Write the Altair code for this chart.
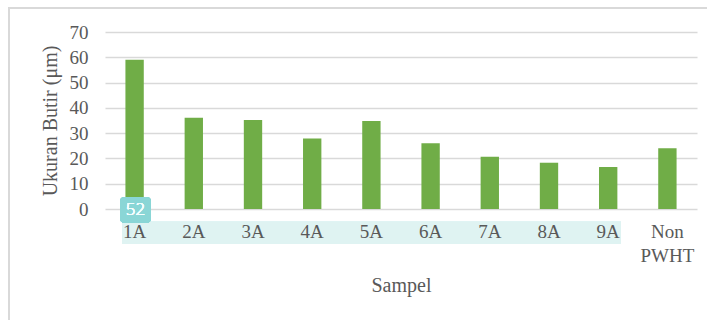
import altair as alt
import pandas as pd

# Grain size per sample
samples = ["1A", "2A", "3A", "4A", "5A", "6A", "7A", "8A", "9A", "Non PWHT"]
grain_size = [59, 36.1, 35.2, 27.9, 34.8, 26, 20.7, 18.3, 16.6, 24]

df = pd.DataFrame({"Sampel": samples, "Ukuran": grain_size})

FONT = "Liberation Serif"
GRAY = "#595959"

x_enc = alt.X(
    "Sampel:N",
    sort=samples,
    title="Sampel",
    scale=alt.Scale(paddingInner=0.69, paddingOuter=0.345),
    axis=alt.Axis(
        labelAngle=0,
        labelExpr="split(datum.label, ' ')",
        labelLineHeight=24,
        labelPadding=13,
        labelFontSize=19,
        labelColor=GRAY,
        labelFont=FONT,
        domain=False,
        ticks=False,
        titleFont=FONT,
        titleFontSize=20,
        titleFontWeight="normal",
        titleColor=GRAY,
        titlePadding=10,
        zindex=1,
    ),
)

bars = alt.Chart(df).mark_bar(color="#70AD47").encode(
    x=x_enc,
    y=alt.Y(
        "Ukuran:Q",
        title="Ukuran Butir (μm)",
        scale=alt.Scale(domain=[0, 70], nice=False),
        axis=alt.Axis(
            values=[0, 10, 20, 30, 40, 50, 60, 70],
            domain=False,
            ticks=False,
            grid=True,
            gridColor="#D9D9D9",
            gridWidth=1.3,
            labelFontSize=19,
            labelFont=FONT,
            labelColor=GRAY,
            labelPadding=17,
            titleFont=FONT,
            titleFontSize=20,
            titleFontWeight="normal",
            titleColor=GRAY,
            titlePadding=9,
        ),
    ),
)

# Outer frame of the figure
frame = alt.Chart(df).mark_rect(
    fill=None, stroke="#D9D9D9", strokeWidth=1.5
).encode(
    x=alt.value(-96), x2=alt.value(640),
    y=alt.value(-24), y2=alt.value(320),
)

# Light highlight band behind the lower category labels
band = alt.Chart(df).mark_rect(color="#DFF3F2").encode(
    x=alt.value(17), x2=alt.value(516),
    y=alt.value(189.7), y2=alt.value(211.7),
)

badge = alt.Chart(df).mark_rect(
    color="#8AD6D6", opacity=0.75, cornerRadius=4
).encode(
    x=alt.value(15), x2=alt.value(46),
    y=alt.value(165), y2=alt.value(190.7),
)

badge_text = alt.Chart(df).mark_text(
    text="52", color="#F4FFFF", fontSize=17, font="Open Sans", fontWeight=300
).encode(
    x=alt.value(30.5), y=alt.value(178),
)

chart = (
    alt.layer(frame, band, bars, badge, badge_text)
    .properties(
        width=592,
        height=177,
        autosize=alt.AutoSizeParams(type="none"),
        padding={"left": 105, "top": 32, "right": 10, "bottom": 111},
        background="white",
    )
    .configure_view(stroke=None)
)

chart.save("out.html", embed_options={"renderer": "svg", "actions": False})
